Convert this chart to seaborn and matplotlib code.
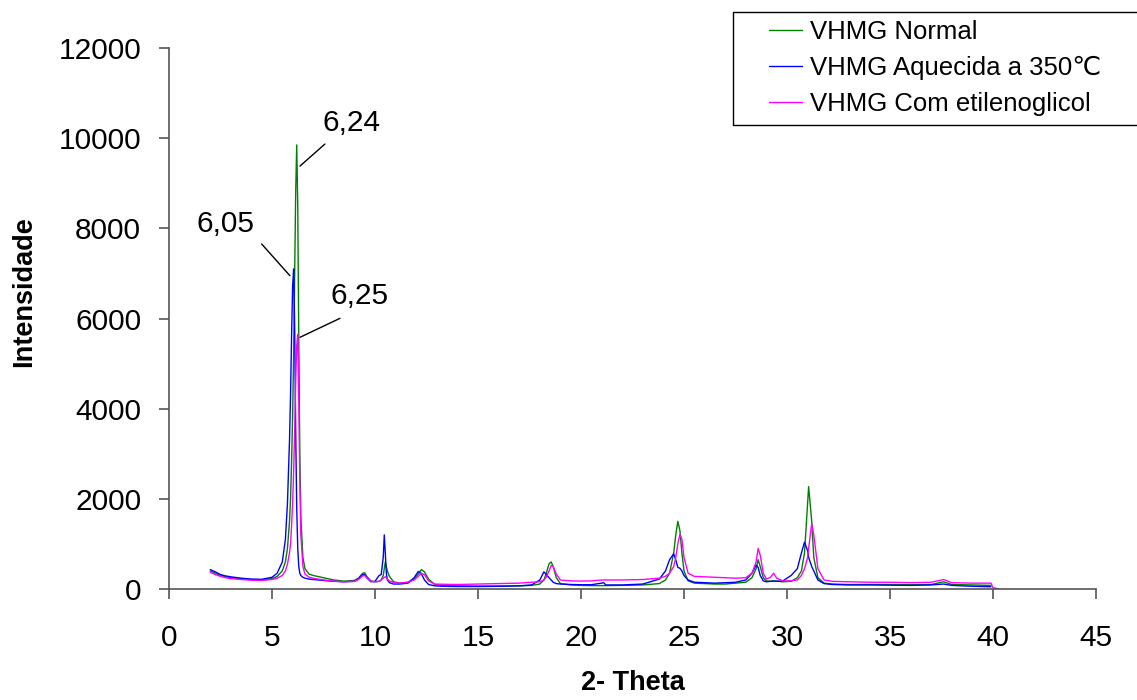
import numpy as np
import pandas as pd
import matplotlib
matplotlib.use("Agg")
import matplotlib.pyplot as plt
import seaborn as sns
from matplotlib.patches import Rectangle
from matplotlib.lines import Line2D

nan = np.nan
two_theta = [2.0, 2.25, 2.5, 2.75, 3.0, 3.5, 4.0, 4.5, 5.0, 5.25, 5.5, 5.65, 5.75, 5.85, 5.9, 5.95,
             6.0, 6.05, 6.1, 6.15, 6.2, 6.25, 6.3, 6.35, 6.4, 6.5, 6.6, 6.8, 7.0, 7.5, 8.0, 8.5,
             9.0, 9.2, 9.4, 9.5, 9.6, 9.8, 10.0, 10.2, 10.3, 10.4, 10.45, 10.5, 10.55, 10.6, 10.7,
             10.9, 11.2, 11.6, 11.9, 12.1, 12.25, 12.4, 12.6, 12.9, 13.3, 14.0, 15.0, 16.0, 17.0,
             17.6, 18.0, 18.2, 18.3, 18.45, 18.55, 18.65, 18.8, 19.0, 19.5, 20.0, 20.5, 21.0, 21.1,
             21.2, 22.0, 23.0, 23.8, 24.1, 24.3, 24.5, 24.6, 24.7, 24.8, 24.9, 25.0, 25.2, 25.5,
             26.0, 26.5, 27.0, 27.5, 28.0, 28.3, 28.5, 28.6, 28.7, 28.85, 29.0, 29.2, 29.35, 29.5,
             29.8, 30.2, 30.5, 30.7, 30.85, 31.0, 31.05, 31.2, 31.3, 31.5, 31.8, 32.2, 33.0, 34.0,
             35.0, 36.0, 37.0, 37.6, 38.0, 39.0, 39.9, 40.0, 40.3]

normal = [400, 350, 300, 270, 250, 230, 210, 205, 230, 280, 400, 600, 900, 1500, 2000, 2800,
          3800, 5200, 7000, 8800, 9850, 8500, 5500, 3000, 1600, 700, 450, 330, 300, 250, 200, 175,
          190, 240, 350, 360, 280, 180, 160, 170, 200, 300, 450, 600, 500, 400, 280,
          160, 130, 150, 230, 330, 430, 380, 220, 100, 80, 70, 65, 65, 70,
          80, 110, 200, 330, 560, 600, 500, 250, 120, 90, 80, 75, 75, 75,
          75, 80, 90, 120, 200, 350, 800, 1200, 1500, 1300, 800, 400, 180, 130,
          120, 110, 110, 130, 150, 250, 450, 650, 500, 250, 180, 170, 180, 175,
          160, 170, 250, 400, 800, 1900, 2270, 1500, 700, 250, 130, 110, 100, 100,
          100, 95, 100, 160, 100, 90, 80, nan, nan]

aquecida = [430, 380, 320, 290, 270, 240, 220, 215, 260, 350, 600, 1100, 1900, 3300, 4300, 5600,
            6700, 7100, 5800, 3500, 1800, 900, 500, 350, 300, 260, 240, 220, 210, 190, 170, 160,
            170, 230, 320, 320, 250, 160, 170, 300, 320, 700, 1200, 800, 350, 200, 140,
            110, 110, 130, 250, 390, 340, 200, 100, 70, 60, 55, 55, 60, 70,
            90, 200, 380, 330, 250, 200, 150, 120, 110, 100, 95, 95, 130, 140,
            90, 90, 110, 220, 400, 650, 780, 650, 480, 460, 400, 300, 200, 150,
            140, 130, 140, 150, 200, 350, 530, 480, 300, 180, 160, 170, 175, 170,
            180, 300, 450, 800, 1040, 850, 700, 500, 400, 200, 120, 100, 90, 90,
            85, 80, 90, 110, 80, 60, 50, nan, nan]

etilenoglicol = [370, 320, 280, 250, 230, 210, 195, 190, 210, 240, 300, 400, 550, 800, 1000, 1400,
                 1900, 2600, 3500, 4600, 5400, 5650, 4200, 2400, 1200, 500, 330, 260, 240, 200, 175, 160,
                 170, 210, 290, 300, 250, 170, 160, 170, 200, 240, 260, 270, 250, 220, 180,
                 140, 130, 150, 200, 280, 350, 320, 180, 110, 105, 100, 110, 120, 130,
                 150, 160, 200, 250, 400, 520, 500, 330, 200, 180, 175, 180, 200, 200,
                 200, 200, 210, 240, 280, 350, 500, 700, 1000, 1210, 1100, 700, 350, 280,
                 270, 260, 250, 240, 250, 350, 600, 900, 750, 350, 220, 260, 350, 240,
                 180, 180, 200, 300, 450, 700, 900, 1450, 1200, 450, 200, 170, 160, 150,
                 150, 140, 150, 210, 140, 130, 130, 30, 0]

series_names = ["VHMG Normal", "VHMG Aquecida a 350\u2103", "VHMG Com etilenoglicol"]
colors = ["#008000", "#0000FF", "#FF00FF"]

df = pd.concat([
    pd.DataFrame({"x": two_theta, "y": vals, "serie": name})
    for name, vals in zip(series_names, [normal, aquecida, etilenoglicol])
], ignore_index=True)

sns.set_style("white")
plt.rcParams['font.family'] = ['Liberation Sans', 'DejaVu Sans']
plt.rcParams['text.color'] = 'black'
plt.rcParams['axes.labelcolor'] = 'black'
plt.rcParams['xtick.color'] = 'black'
plt.rcParams['ytick.color'] = 'black'

W, H = 1137, 700
fig = plt.figure(figsize=(W / 100, H / 100), dpi=100)
ax = fig.add_axes([169 / W, 1 - 589 / H, (1096 - 169) / W, (589 - 48) / H])

sns.lineplot(data=df, x="x", y="y", hue="serie", palette=colors, hue_order=series_names,
             estimator=None, sort=False, linewidth=1.0, ax=ax, legend=False)

ax.set_xlim(0, 45)
ax.set_ylim(0, 12000)
ax.set_xticks(np.arange(0, 46, 5))
ax.set_yticks(np.arange(0, 12001, 2000))
ax.set_xlabel("2- Theta", fontsize=19.5, fontweight="bold", color="black")
ax.set_ylabel("Intensidade", fontsize=19.5, fontweight="bold", color="black")
ax.xaxis.set_label_coords(0.5, -(683 - 589) / 541, transform=ax.transAxes)
ax.yaxis.set_label_coords((24 - 169) / 927, (589 - 292) / 541, transform=ax.transAxes)
ax.xaxis.label.set_va("center")
ax.yaxis.label.set_va("center")
for sp in ["top", "right"]:
    ax.spines[sp].set_visible(False)
for sp in ["left", "bottom"]:
    ax.spines[sp].set_color("#555555")
    ax.spines[sp].set_linewidth(1.2)
ax.tick_params(axis="both", direction="out", length=7, width=1.2, color="#555555",
               labelsize=21.5, labelcolor="black", bottom=True, left=True)
ax.tick_params(axis="x", pad=18)
ax.tick_params(axis="y", pad=13)

# annotations
ann_kw = dict(fontsize=21.5, color="black")
line_kw = dict(arrowstyle="-", color="black", lw=1.0, shrinkA=0, shrinkB=0)
ax.text(7.43, 10336, "6,24", ha="left", va="center", **ann_kw)
ax.annotate("", xy=(6.36, 9382), xytext=(7.57, 9870), arrowprops=line_kw)
ax.text(4.17, 8096, "6,05", ha="right", va="center", **ann_kw)
ax.annotate("", xy=(5.87, 6949), xytext=(4.5, 7652), arrowprops=line_kw)
ax.text(7.82, 6499, "6,25", ha="left", va="center", **ann_kw)
ax.annotate("", xy=(6.36, 5583), xytext=(8.30, 6004), arrowprops=line_kw)

# legend
handles = [Line2D([0], [0], color=c, lw=1.0) for c in colors]
fig.patches.append(Rectangle((733 / W, 1 - 125 / H), (1145 - 733) / W, (125 - 12) / H,
                             transform=fig.transFigure, fill=False, edgecolor="black",
                             linewidth=1.0, figure=fig))
leg = fig.legend(handles, series_names, loc="upper left", bbox_to_anchor=(769 / W, 1 - 20 / H),
                 frameon=False, fontsize=18.5, handlelength=1.3, handletextpad=0.3,
                 borderpad=0, borderaxespad=0, labelspacing=0.47)
for t in leg.get_texts():
    t.set_color("black")

fig.savefig("out.png", dpi=100)
